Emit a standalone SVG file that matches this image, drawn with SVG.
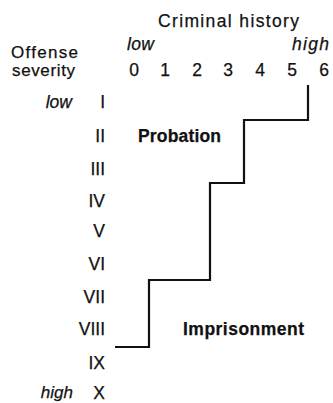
<svg xmlns="http://www.w3.org/2000/svg" width="333" height="403" viewBox="0 0 333 403">
<style>
text{font-family:"Liberation Sans",Arial,sans-serif;font-size:17.5px;fill:#111;stroke:#111;stroke-width:0.25}
.it{font-style:italic}
.b{font-weight:bold}
.r{text-anchor:end}
.m{text-anchor:middle}
.sm{font-size:17px}
.step{fill:none;stroke:#111;stroke-width:2.2;stroke-linejoin:miter}
</style>
<rect width="333" height="403" fill="#fff"/>
<g id="column-axis">
<text x="158" y="27" textLength="141" lengthAdjust="spacing">Criminal history</text>
<text class="it" x="127" y="50" textLength="27" lengthAdjust="spacing">low</text>
<text class="it" x="292" y="50" textLength="37" lengthAdjust="spacing">high</text>
<text class="m" x="134" y="76">0</text>
<text class="m" x="165" y="76">1</text>
<text class="m" x="197" y="76">2</text>
<text class="m" x="228" y="76">3</text>
<text class="m" x="260" y="76">4</text>
<text class="m" x="292" y="76">5</text>
<text class="m" x="324" y="76">6</text>
</g>
<g id="row-axis">
<text class="sm" x="11" y="58" textLength="67" lengthAdjust="spacing">Offense</text>
<text class="sm" x="12" y="75.5" textLength="63" lengthAdjust="spacing">severity</text>
<text class="it r" x="72" y="108">low</text>
<text class="it r sm" x="73" y="397.5">high</text>
<text class="r" x="105" y="108">I</text>
<text class="r" x="105" y="142">II</text>
<text class="r" x="105" y="175">III</text>
<text class="r" x="105" y="207">IV</text>
<text class="r" x="105" y="237">V</text>
<text class="r" x="105" y="270">VI</text>
<text class="r" x="105" y="303">VII</text>
<text class="r" x="105" y="335">VIII</text>
<text class="r" x="105" y="369">IX</text>
<text class="r" x="105" y="399">X</text>
</g>
<g id="probation">
<text class="b" x="138" y="142" textLength="83" lengthAdjust="spacing">Probation</text>
</g>
<g id="imprisonment">
<text class="b" x="183" y="335" textLength="121" lengthAdjust="spacing">Imprisonment</text>
</g>
<g id="connectors">
<path class="step" d="M308,85 V120 H244 V183 H210 V280 H149 V347 H115"/>
</g>
</svg>
